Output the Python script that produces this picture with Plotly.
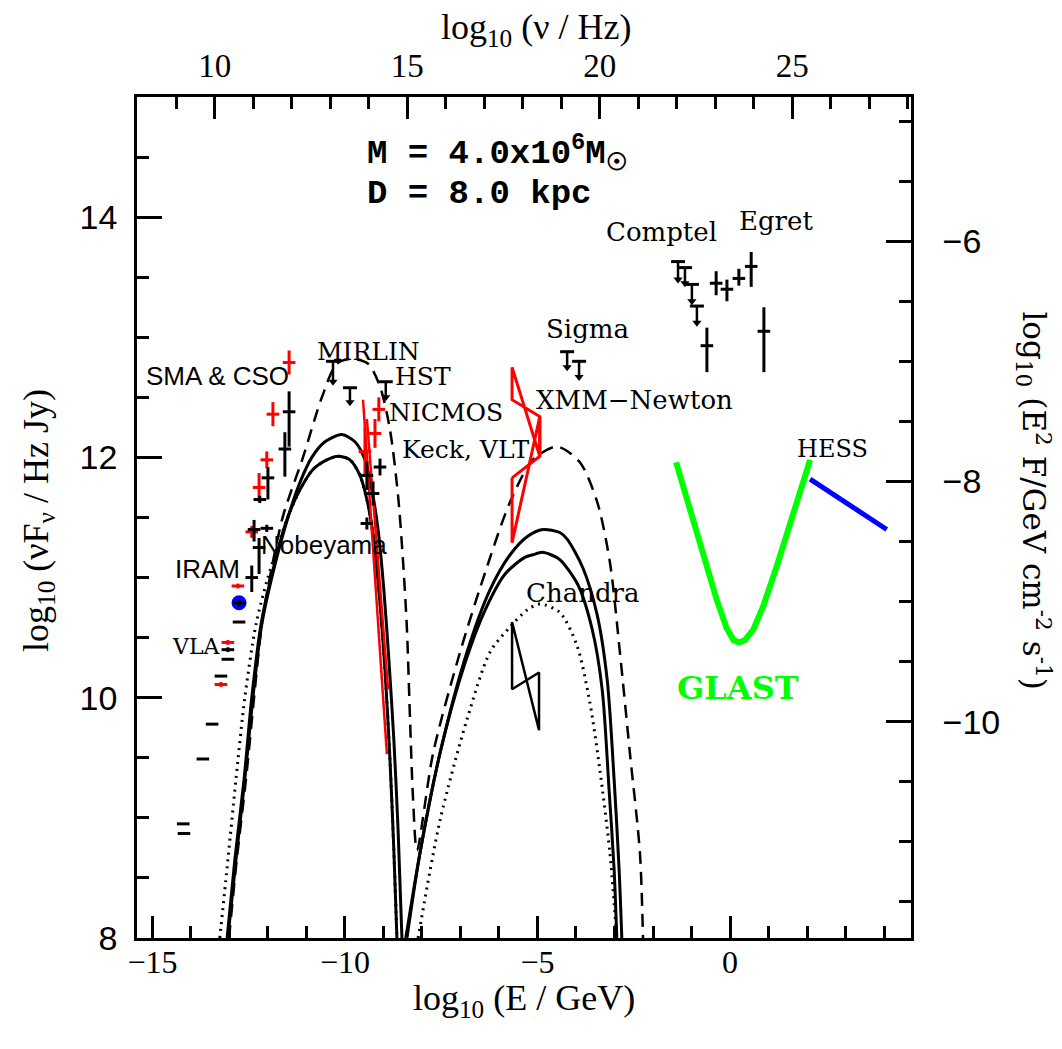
import plotly.graph_objects as go

# ---------------- model curves: log10(E/GeV), log10(nuFnu / Hz Jy) ----------------
# first bump (synchrotron), upper solid
synA_E = [-13.04, -12.83, -12.60, -12.39, -12.16, -11.90, -11.48, -11.17, -10.86, -10.52, -10.08,
          -9.74, -9.48, -9.30, -9.14, -8.99, -8.86, -8.73, -8.62, -8.52]
synA_Y = [8.0, 8.65, 9.32, 10.0, 10.61, 11.0, 11.5, 11.79, 12.0, 12.13, 12.19,
          12.13, 11.98, 11.73, 11.4, 10.9, 10.32, 9.65, 8.9, 8.0]
# first bump, lower solid
synB_E = [-13.06, -12.86, -12.62, -12.42, -12.18, -11.92, -11.51, -11.17, -10.83, -10.47, -10.18,
          -9.87, -9.61, -9.43, -9.27, -9.12, -8.96, -8.83, -8.73, -8.65]
synB_Y = [8.0, 8.65, 9.32, 10.0, 10.61, 11.0, 11.48, 11.73, 11.9, 11.98, 12.01,
          11.98, 11.85, 11.65, 11.36, 10.9, 10.23, 9.48, 8.73, 8.0]
# first bump, dotted
synD_E = [-13.25, -13.04, -12.83, -12.60, -12.31, -12.0, -11.51, -11.17, -10.83, -10.47, -10.18,
          -9.87, -9.61, -9.43, -9.27, -9.12, -8.96, -8.83, -8.73, -8.65]
synD_Y = [8.0, 8.65, 9.32, 10.0, 10.61, 11.0, 11.48, 11.73, 11.9, 11.98, 12.01,
          11.98, 11.85, 11.65, 11.36, 10.9, 10.23, 9.48, 8.73, 8.0]
# dashed (both bumps, one curve)
dash_E = [-13.01, -12.81, -12.57, -12.36, -12.16, -11.95, -11.61, -11.09, -10.60, -10.21, -9.82,
          -9.40, -9.09, -8.83, -8.62, -8.49, -8.39, -8.31, -8.23, -8.13,
          -7.71, -7.01, -6.31, -5.71, -5.12, -4.49, -3.90, -3.45, -3.12, -2.86, -2.60, -2.34, -2.26]
dash_Y = [8.0, 8.65, 9.32, 10.0, 10.61, 11.0, 11.51, 12.0, 12.5, 12.78, 12.82,
          12.78, 12.59, 12.23, 11.68, 11.13, 10.57, 9.82, 9.15, 8.73,
          9.54, 10.38, 11.09, 11.63, 11.98, 12.09, 11.96, 11.63, 11.13, 10.38, 9.54, 8.71, 8.0]
# second bump (inverse Compton), upper solid
icA_E = [-8.39, -8.05, -7.53, -6.83, -6.23, -5.71, -5.27, -4.86, -4.42, -4.23, -3.82, -3.45, -3.19,
         -3.01, -2.88, -2.81]
icA_Y = [8.0, 8.71, 9.54, 10.38, 10.9, 11.19, 11.34, 11.4, 11.375, 11.32, 11.08, 10.69, 10.15,
         9.32, 8.57, 8.0]
# second bump, lower solid
icB_E = [-8.42, -8.05, -7.53, -6.88, -6.36, -5.84, -5.32, -5.12, -4.88, -4.65, -4.42, -3.95, -3.58,
         -3.32, -3.14, -3.01, -2.94]
icB_Y = [8.0, 8.71, 9.54, 10.29, 10.73, 11.03, 11.17, 11.19, 11.21, 11.19, 11.15, 10.94, 10.57,
         10.07, 9.23, 8.57, 8.0]
# second bump, dotted
icD_E = [-8.10, -7.53, -6.83, -6.23, -5.71, -5.27, -4.94, -4.42, -3.97, -3.64, -3.38, -3.12, -2.94]
icD_Y = [8.0, 8.98, 9.82, 10.38, 10.59, 10.73, 10.78, 10.71, 10.43, 9.96, 9.4, 8.71, 8.0]

# GLAST sensitivity and HESS spectrum
glast_E = [-1.40, -1.04, -0.69, -0.35, -0.09, 0.09, 0.23, 0.39, 0.61, 0.86, 1.21, 1.56, 1.90, 2.08]
glast_Y = [11.96, 11.57, 11.18, 10.82, 10.58, 10.48, 10.46, 10.48, 10.57, 10.76, 11.09, 11.46, 11.79, 11.98]
hess_E = [2.08, 4.07]
hess_Y = [11.82, 11.40]

# ---------------- measurements ----------------
blk_E = [-14.20, -14.18, -13.69, -13.45, -13.22, -13.04, -13.04, -12.75, -12.75, -12.42, -12.36,
         -12.23, -12.21, -12.03, -12.00, -11.56, -11.45,
         -9.43, -9.27, -9.09, -9.43,
         -0.60, -0.36, -0.08, 0.23, 0.55, 0.88]
blk_Y = [8.95, 8.87, 9.49, 9.78, 10.18, 10.32, 10.40, 10.63, 10.79, 11.00, 11.40,
         11.25, 11.65, 11.41, 11.83, 12.07, 12.38,
         11.85, 11.70, 11.92, 11.45,
         12.93, 13.45, 13.40, 13.49, 13.59, 13.05]
blk_up = [0.0, 0.0, 0.0, 0.0, 0.0, 0.0, 0.02, 0.0, 0.03, 0.10, 0.08,
          0.08, 0.03, 0.03, 0.09, 0.14, 0.17,
          0.12, 0.10, 0.07, 0.05,
          0.15, 0.10, 0.08, 0.08, 0.12, 0.20]
blk_dn = [0.0, 0.0, 0.0, 0.0, 0.0, 0.0, 0.02, 0.0, 0.03, 0.12, 0.10,
          0.22, 0.03, 0.03, 0.18, 0.23, 0.29,
          0.12, 0.10, 0.07, 0.05,
          0.22, 0.10, 0.10, 0.06, 0.17, 0.34]

red_E = [-13.22, -13.04, -12.78, -12.42, -12.23, -12.03, -11.87, -11.45, -9.48, -9.22, -9.12]
red_Y = [10.11, 10.46, 10.93, 11.38, 11.75, 11.98, 12.36, 12.79, 12.05, 12.20, 12.40]
red_err = [0.02, 0.02, 0.02, 0.05, 0.12, 0.07, 0.10, 0.10, 0.20, 0.12, 0.10]

# NIR spectral slopes (red lines)
nir1_E = [-9.53, -8.91]
nir1_Y = [12.48, 9.53]
nir2_E = [-9.43, -8.88]
nir2_Y = [12.32, 10.07]

# upper limits: position of the bar and arrow length
ul_E = [-10.31, -9.87, -8.94, -4.23, -3.92, -1.35, -1.17, -0.99, -0.86]
ul_Y = [12.80, 12.58, 12.63, 12.88, 12.80, 13.63, 13.58, 13.44, 13.26]
ul_len = [0.17, 0.12, 0.13, 0.13, 0.13, 0.15, 0.13, 0.14, 0.14]

# IRAM point (blue)
blue_E = [-12.75]
blue_Y = [10.79]

# bow ties (XMM-Newton red, Chandra black)
xmm1_E = [-5.66, -4.94, -4.94, -5.66, -5.66]
xmm1_Y = [12.75, 12.01, 12.34, 12.48, 12.75]
xmm2_E = [-5.66, -4.94, -4.94, -5.66, -5.66]
xmm2_Y = [11.83, 12.01, 12.34, 11.29, 11.83]
chan_E = [-5.66, -4.96, -4.96, -5.66, -5.66]
chan_Y = [10.63, 9.73, 10.21, 10.07, 10.63]

# ---------------- axes ----------------
E_RANGE = [-15.4, 4.7]
Y_RANGE = [8.0, 15.0]
NU_SHIFT = 23.383     # log10(nu/Hz) = log10(E/GeV) + 23.383
RIGHT_SHIFT = -19.8   # right axis value = left axis value - 19.8

fig = go.Figure()

def curve(x, y, dash="solid", width=3, color="black"):
    fig.add_trace(go.Scatter(x=x, y=y, mode="lines",
                             line=dict(color=color, width=width, dash=dash, shape="spline", smoothing=0.8),
                             hoverinfo="skip", showlegend=False))

def poly(x, y, color, width):
    fig.add_trace(go.Scatter(x=x, y=y, mode="lines", line=dict(color=color, width=width),
                             hoverinfo="skip", showlegend=False))

curve(synD_E, synD_Y, dash="2px,5px", width=3)
curve(icD_E, icD_Y, dash="2px,5px", width=3)
curve(dash_E, dash_Y, dash="13px,8px", width=2.5)
curve(synA_E, synA_Y)
curve(synB_E, synB_Y)
curve(icA_E, icA_Y)
curve(icB_E, icB_Y)

poly(glast_E, glast_Y, "#00ff00", 6)
poly(hess_E, hess_Y, "#0000ff", 5)
poly(nir1_E, nir1_Y, "red", 2.5)
poly(nir2_E, nir2_Y, "red", 2.5)
poly(xmm1_E, xmm1_Y, "red", 3)
poly(xmm2_E, xmm2_Y, "red", 3)
poly(chan_E, chan_Y, "black", 2.5)

fig.add_trace(go.Scatter(x=blue_E, y=blue_Y, mode="markers",
                         marker=dict(symbol="circle", size=15, color="#0000ff"),
                         hoverinfo="skip", showlegend=False))

fig.add_trace(go.Scatter(x=red_E, y=red_Y, mode="markers",
                         marker=dict(symbol="line-ew", size=9, line=dict(color="red", width=3)),
                         error_y=dict(type="data", array=red_err, width=0, thickness=3, color="red"),
                         hoverinfo="skip", showlegend=False))

fig.add_trace(go.Scatter(x=blk_E, y=blk_Y, mode="markers",
                         marker=dict(symbol="line-ew", size=9, line=dict(color="black", width=3)),
                         error_y=dict(type="data", symmetric=False, array=blk_up, arrayminus=blk_dn,
                                      width=0, thickness=3, color="black"),
                         hoverinfo="skip", showlegend=False))

# upper limits: bar + stem + arrow head
fig.add_trace(go.Scatter(x=ul_E, y=ul_Y, mode="markers",
                         marker=dict(symbol="line-ew", size=10, line=dict(color="black", width=3)),
                         error_y=dict(type="data", symmetric=False, array=[0] * len(ul_E),
                                      arrayminus=ul_len, width=0, thickness=2.5, color="black"),
                         hoverinfo="skip", showlegend=False))
fig.add_trace(go.Scatter(x=ul_E, y=[y - l for y, l in zip(ul_Y, ul_len)], mode="markers",
                         marker=dict(symbol="triangle-down", size=8, color="black"),
                         hoverinfo="skip", showlegend=False))

# dummy trace for the secondary axes
fig.add_trace(go.Scatter(x=[E_RANGE[0] + NU_SHIFT], y=[Y_RANGE[0] + RIGHT_SHIFT], xaxis="x2", yaxis="y2",
                         mode="markers", marker=dict(opacity=0), hoverinfo="skip", showlegend=False))

# ---------------- labels ----------------
SERIF = "DejaVu Serif"
SANS = "Liberation Sans"
labels = [
    ("Comptel", -1.77, 13.875, SERIF, 26, "black"),
    ("Egret", 1.19, 13.97, SERIF, 26, "black"),
    ("Sigma", -3.71, 13.07, SERIF, 26, "black"),
    ("XMM\u2212Newton", -2.47, 12.475, SERIF, 26, "black"),
    ("MIRLIN", -9.40, 12.88, SERIF, 25, "black"),
    ("HST", -7.97, 12.675, SERIF, 25, "black"),
    ("NICMOS", -7.38, 12.375, SERIF, 25, "black"),
    ("Keck, VLT", -6.86, 12.07, SERIF, 25, "black"),
    ("SMA &amp; CSO", -13.32, 12.68, SANS, 26, "black"),
    ("IRAM", -13.56, 11.07, SANS, 26, "black"),
    ("Nobeyama", -10.55, 11.27, SANS, 26, "black"),
    ("VLA", -13.87, 10.43, SERIF, 22, "black"),
    ("Chandra", -3.82, 10.875, SERIF, 26, "black"),
    ("HESS", 2.65, 12.07, SERIF, 24, "black"),
]
annotations = []
for t, x, y, f, s, c in labels:
    annotations.append(dict(text=t, x=x, y=y, xref="x", yref="y", showarrow=False,
                            font=dict(family=f, size=s, color=c)))
annotations.append(dict(text="<b>GLAST</b>", x=0.21, y=10.08, xref="x", yref="y", showarrow=False,
                        font=dict(family=SERIF, size=32, color="#00ff00")))
annotations.append(dict(text="<b>M = 4.0x10<sup>6</sup>M<sub>\u2609</sub></b>", x=-9.48, y=14.53, xref="x",
                        yref="y", xanchor="left", showarrow=False,
                        font=dict(family="Liberation Mono", size=34, color="black")))
annotations.append(dict(text="<b>D = 8.0 kpc</b>", x=-9.48, y=14.19, xref="x", yref="y",
                        xanchor="left", showarrow=False,
                        font=dict(family="Liberation Mono", size=34, color="black")))

TFONT = dict(family="Liberation Serif", size=36, color="black")
annotations += [
    dict(text="log<sub>10</sub> (E / GeV)", x=0.5, y=-0.074, xref="paper", yref="paper",
         showarrow=False, yanchor="middle", font=TFONT),
    dict(text="log<sub>10</sub> (\u03bd / Hz)", x=0.515, y=1.08, xref="paper", yref="paper",
         showarrow=False, yanchor="middle", font=TFONT),
    dict(text="log<sub>10</sub> (\u03bdF<sub>\u03bd</sub> / Hz Jy)", x=-0.128, y=0.497, xref="paper",
         yref="paper", showarrow=False, textangle=-90, xanchor="center", yanchor="middle", font=TFONT),
    dict(text="log<sub>10</sub> (E<sup>2</sup> F/GeV cm<sup>-2</sup> s<sup>-1</sup>)", x=1.158, y=0.52,
         xref="paper", yref="paper", showarrow=False, textangle=90, xanchor="center", yanchor="middle",
         font=dict(family="DejaVu Serif", size=31, color="black")),
]

axis_common = dict(showgrid=False, zeroline=False, showline=True, linecolor="black", linewidth=2.5,
                   ticks="inside", tickcolor="black", tickwidth=2.5)

# the page adds an 8 px body margin, so the margins are shifted by 8 px
fig.update_layout(
    width=1062, height=1049,
    margin=dict(l=129, r=159, t=89, b=119),
    plot_bgcolor="white", paper_bgcolor="white",
    showlegend=False,
    xaxis=dict(range=E_RANGE, tick0=0, dtick=5, ticklen=22,
               minor=dict(ticks="inside", dtick=1, ticklen=12, tickwidth=2.5, tickcolor="black"),
               tickfont=dict(family="Liberation Serif", size=32, color="black"),
               ticklabelstandoff=-6, **axis_common),
    yaxis=dict(range=Y_RANGE, tick0=0, dtick=2, ticklen=25,
               minor=dict(ticks="inside", dtick=0.5, ticklen=12, tickwidth=2.5, tickcolor="black"),
               tickfont=dict(family="Liberation Sans", size=34, color="black"),
               ticklabelstandoff=10, **axis_common),
    xaxis2=dict(range=[E_RANGE[0] + NU_SHIFT, E_RANGE[1] + NU_SHIFT], overlaying="x", side="top",
                anchor="y", tick0=0, dtick=5, ticklen=22,
                minor=dict(ticks="inside", dtick=1, ticklen=12, tickwidth=2.5, tickcolor="black"),
                tickfont=dict(family="Liberation Serif", size=33, color="black"),
                ticklabelstandoff=4, **axis_common),
    yaxis2=dict(range=[Y_RANGE[0] + RIGHT_SHIFT, Y_RANGE[1] + RIGHT_SHIFT], overlaying="y", side="right",
                anchor="x", tick0=0, dtick=2, ticklen=25,
                minor=dict(ticks="inside", dtick=0.5, ticklen=12, tickwidth=2.5, tickcolor="black"),
                tickfont=dict(family="Liberation Sans", size=34, color="black"),
                ticklabelstandoff=22, **axis_common),
    annotations=annotations,
)

fig.write_html("out.html")
